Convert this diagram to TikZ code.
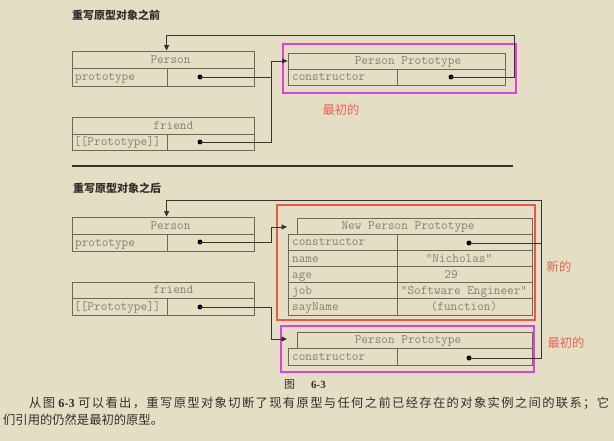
\documentclass[tikz,border=0pt]{standalone}
\usepackage{fontspec}
\newfontfamily\cjk{Noto Sans CJK SC}
\newfontfamily\serifnum{Liberation Serif}
\usetikzlibrary{arrows.meta}
\definecolor{bg}{RGB}{228,222,197}
\definecolor{boxline}{RGB}{110,104,88}
\definecolor{wire}{RGB}{55,51,44}
\definecolor{celltext}{RGB}{135,128,110}
\definecolor{mag}{RGB}{222,64,222}
\definecolor{redbox}{RGB}{236,86,76}
\definecolor{redtext}{RGB}{236,96,86}
\definecolor{titletext}{RGB}{50,46,40}
\makeatletter
\newcommand\spreadcjk[1]{\@tfor\spreadc:=#1\do{\spreadc\hfil}}
\makeatother
\newcommand\cellbox[5]{\node[cell, minimum width={#4-#2}, minimum height={#5-#3}] (#1) at ({(#2+#4)/2},{(#3+#5)/2}) {};}
\tikzset{
  cell/.style={draw=boxline, line width=0.8pt, inner sep=0pt},
  ctxt/.style={inner sep=0pt, text=celltext, font=\ttfamily\fontsize{12.9}{13}\selectfont},
  dotn/.style={circle, fill=black, inner sep=0pt, minimum size=5pt},
  wireline/.style={draw=wire, line width=0.8pt},
  arrowline/.style={wireline, -{Triangle[length=5.5pt,width=5pt]}},
  magframe/.style={draw=mag, line width=1.8pt},
  redframe/.style={draw=redbox, line width=1.4pt},
  redlbl/.style={text=redtext, font=\cjk\fontsize{12.3}{14}\selectfont, inner sep=0pt},
  titlelbl/.style={anchor=west, inner sep=0pt, text=titletext, font=\cjk\bfseries\fontsize{11}{12}\selectfont},
  paralbl/.style={anchor=base west, inner sep=0pt, text=titletext, font=\cjk\fontsize{12.3}{14}\selectfont},
}
\begin{document}
\begin{tikzpicture}[x=1pt,y=-1pt]
\fill[bg] (0,0) rectangle (614,441);
\useasboundingbox (0,0) rectangle (614,441);

% ---------- top section ----------
\node[titlelbl] (title1) at (72,15) {重写原型对象之前};

\cellbox{ph1}{72}{51}{254}{68}
\cellbox{pl1}{72}{68}{167}{86}
\cellbox{pv1}{167}{68}{254}{86}
\cellbox{fh1}{72}{117}{254}{134}
\cellbox{fl1}{72}{134}{167}{150}
\cellbox{fv1}{167}{134}{254}{150}
\cellbox{pph1}{288}{53}{505}{69}
\cellbox{ppl1}{288}{69}{397}{85}
\cellbox{ppv1}{397}{69}{505}{85}

\node[ctxt, anchor=base] (tph1) at (170.5,63.3) {Person};
\node[ctxt, anchor=base west] (tpl1) at (75,80.8) {prototype};
\node[ctxt, anchor=base] (tfh1) at (173.3,129.3) {friend};
\node[ctxt, anchor=base west] (tfl1) at (74,145.8) {[[Prototype]]};
\node[ctxt, anchor=base] (tpph1) at (408,64.8) {Person Prototype};
\node[ctxt, anchor=base west] (tppl1) at (292,80.8) {constructor};

\node[dotn] (pd1) at (200,77) {};
\node[dotn] (fd1) at (200,142) {};
\node[dotn] (ppd1) at (451,77) {};

\draw[magframe] (283,44) rectangle (516,93);
\node[redlbl] (orig1) at (341,110) {最初的};

\coordinate (b1) at (271,0);
\coordinate (t1) at (514,35);
\draw[arrowline] (pd1.center) -- (pd1.center -| b1) |- (pph1.west);
\draw[wireline] (fd1.center) -| (b1 |- pph1.west);
\draw[arrowline] (ppd1.center) -| (t1) -| (pv1.west |- ph1.north);

% separator
\coordinate (s1) at (72,166);
\coordinate (s2) at (513,166);
\draw[draw=wire, line width=1.5pt] (s1) -- (s2);

% ---------- bottom section ----------
\node[titlelbl] (title2) at (73,188) {重写原型对象之后};

\cellbox{ph2}{72}{217}{254}{234}
\cellbox{pl2}{72}{234}{167}{251}
\cellbox{pv2}{167}{234}{254}{251}
\cellbox{fh2}{72}{282}{254}{298}
\cellbox{fl2}{72}{298}{167}{315}
\cellbox{fv2}{167}{298}{254}{315}

\cellbox{npph}{297}{218}{532}{234}
\cellbox{npl1}{288}{234}{397}{250.2}
\cellbox{npv1}{397}{234}{532}{250.2}
\cellbox{npl2}{288}{250.2}{397}{266.4}
\cellbox{npv2}{397}{250.2}{532}{266.4}
\cellbox{npl3}{288}{266.4}{397}{282.6}
\cellbox{npv3}{397}{266.4}{532}{282.6}
\cellbox{npl4}{288}{282.6}{397}{298.8}
\cellbox{npv4}{397}{282.6}{532}{298.8}
\cellbox{npl5}{288}{298.8}{397}{315}
\cellbox{npv5}{397}{298.8}{532}{315}

\cellbox{pph2}{297}{332}{532}{348}
\cellbox{ppl2}{288}{348}{397}{365}
\cellbox{ppv2}{397}{348}{532}{365}

\node[ctxt, anchor=base] (tph2) at (170.5,229.3) {Person};
\node[ctxt, anchor=base west] (tpl2) at (75,246.3) {prototype};
\node[ctxt, anchor=base] (tfh2) at (173.3,293.8) {friend};
\node[ctxt, anchor=base west] (tfl2) at (74,310.3) {[[Prototype]]};

\node[ctxt, anchor=base] (tnpph) at (408,229.8) {New Person Prototype};
\node[ctxt, anchor=base west] (tnpl1) at (292,245.9) {constructor};
\node[ctxt, anchor=base west] (tnpl2) at (292,262.1) {name};
\node[ctxt, anchor=base west] (tnpl3) at (292,278.3) {age};
\node[ctxt, anchor=base west] (tnpl4) at (292,294.5) {job};
\node[ctxt, anchor=base west] (tnpl5) at (292,310.7) {sayName};
\node[ctxt, anchor=base] (tnpv2) at (459,262.1) {"Nicholas"};
\node[ctxt, anchor=base] (tnpv3) at (451,278.3) {29};
\node[ctxt, anchor=base] (tnpv4) at (464,294.5) {"Software Engineer"};
\node[ctxt, anchor=base] (tnpv5) at (464,310.7) {(function)};

\node[ctxt, anchor=base] (tpph2) at (408,343.8) {Person Prototype};
\node[ctxt, anchor=base west] (tppl2) at (292,360.3) {constructor};

\node[dotn] (pd2) at (200,242) {};
\node[dotn] (fd2) at (200,307) {};
\node[dotn] (npd) at (469,243) {};
\node[dotn] (ppd2) at (469,358) {};

\draw[redframe] (277,205) rectangle (535,320);
\draw[magframe] (281,326) rectangle (534,372);
\node[redlbl] (newl) at (559,267) {新的};
\node[redlbl] (orig2) at (566,343) {最初的};

\coordinate (b2) at (271,0);
\coordinate (in2) at (287,227);
\coordinate (in3) at (287,339);
\coordinate (t2) at (541,200);
\draw[arrowline] (pd2.center) -| (b2 |- in2) -- (in2);
\draw[arrowline] (fd2.center) -| (b2 |- in3) -- (in3);
\draw[arrowline] (ppd2.center) -| (t2) -| (pv2.west |- ph2.north);
\draw[wireline] (npd.center) -- (npd.center -| t2);

% ---------- caption and text ----------
\node[anchor=base west, inner sep=0pt, text=titletext, font=\fontsize{11}{12}\selectfont] (cap) at (284,388) {\cjk 图\hspace{16pt}{\serifnum\bfseries 6-3}};

\node[paralbl] (para1) at (29,407.5) {\hbox to 580pt{\spreadcjk{从图}\hspace{2pt}{\serifnum\bfseries 6-3}\hspace{2pt}\hfil\spreadcjk{可以看出，重写原型对象切断了现有原型与任何之前已经存在的对象实例之间的联系；}它}};
\node[paralbl] (para2) at (3,424.5) {们引用的仍然是最初的原型。};
\end{tikzpicture}
\end{document}
